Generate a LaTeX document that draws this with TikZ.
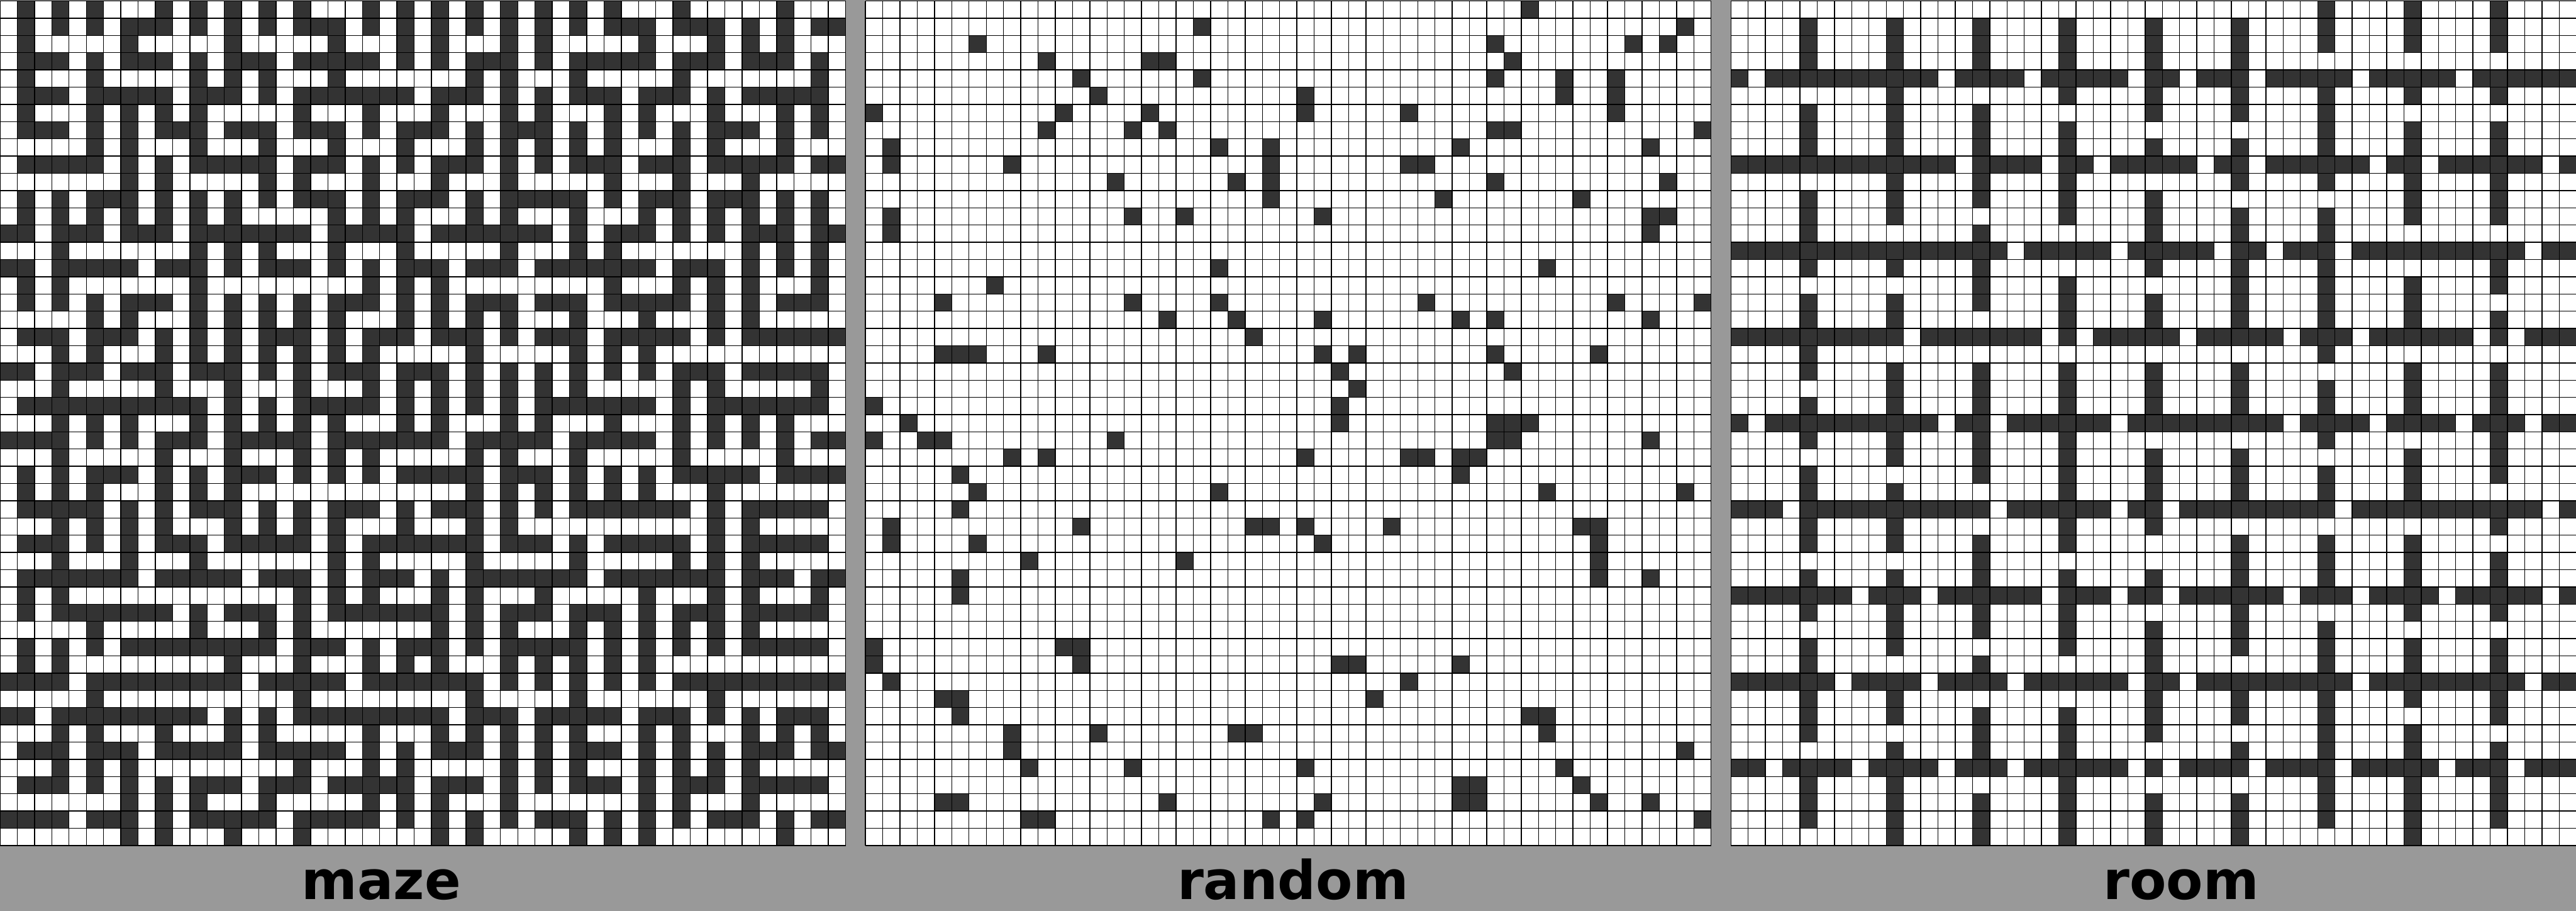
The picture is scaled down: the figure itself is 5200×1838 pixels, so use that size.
\documentclass[tikz,border=0pt]{standalone}
\usepackage{fontspec}
\setmainfont{DejaVu Sans}
\definecolor{wallc}{RGB}{51,51,51}
\definecolor{bandc}{RGB}{153,153,153}
\tikzset{
  darkcell/.style={fill=wallc},
  opencell/.style={fill=white},
  gridline/.style={draw=black, line width=0.5pt},
  band/.style={fill=bandc},
  cellunits/.style={x=0.348163cm, y=-0.347551cm},
  panellabel/.style={font=\bfseries\fontsize{30.7}{36}\selectfont, text=black, inner sep=0pt, anchor=base},
}
\newcommand\gridlines{%
  \foreach \i in {0,...,49} {\draw[gridline] (\i,0) -- (\i,49); \draw[gridline] (0,\i) -- (49,\i);}}
\begin{document}
\begin{tikzpicture}[x=0.01cm,y=-0.01cm]
\useasboundingbox (0,0) rectangle (5200,1838);
\fill[band] (0,0) rectangle (5200,1838);

% ---------------- maze ----------------
\begin{scope}[shift={(0,2)}, cellunits]
\fill[opencell] (0,0) rectangle (49,49);
\foreach \r/\cs in {
0/{1,3,5,9,11,13,15,17,21,23,25,27,29,31,33,35,39,45},
1/{1,3,5,7,8,9,11,13,15,17,18,19,21,23,25,27,29,31,33,35,36,37,39,40,41,43,45,47,48},
2/{1,7,13,19,23,25,29,31,37,41,43,45},
3/{1,2,3,5,7,8,9,11,13,14,15,17,18,19,20,21,23,25,27,28,29,31,33,34,35,36,37,39,40,41,43,44,45,47},
4/{1,5,11,13,15,19,27,29,33,39,47},
5/{1,2,3,5,6,7,8,9,11,12,13,15,17,18,19,20,21,22,23,25,26,27,29,31,33,34,35,37,38,39,41,43,44,45,46,47},
6/{1,5,7,9,11,17,21,25,29,31,35,37,41,45,47},
7/{1,2,3,5,7,9,10,11,13,14,15,17,18,19,21,23,24,25,27,29,30,31,33,35,37,39,41,42,43,45,47},
8/{5,7,11,15,19,23,27,29,31,33,35,39,41,45},
9/{1,2,3,4,5,7,9,11,12,13,14,15,17,18,19,21,23,25,26,27,29,31,33,34,35,37,38,39,41,42,43,44,45,47,48},
10/{7,9,15,17,21,25,29,35,39,43},
11/{1,3,5,6,7,9,11,13,15,17,18,19,21,23,24,25,27,29,30,31,32,33,35,37,38,39,41,42,43,45,47},
12/{1,3,5,7,9,11,13,19,21,23,27,29,33,37,39,41,43,45,47},
13/{0,1,3,4,5,7,8,9,11,12,13,14,15,16,17,19,20,21,22,23,25,26,27,28,29,30,31,33,35,36,37,39,41,43,44,45,47,48},
14/{3,11,13,15,19,23,29,33,35,43,45,47},
15/{0,1,3,4,5,6,7,9,10,11,13,15,16,17,19,21,23,24,25,27,28,29,31,32,33,34,35,36,37,39,40,41,43,45,47},
16/{1,3,11,21,23,25,35,39,41,43,47},
17/{1,3,5,7,8,9,11,13,15,17,19,20,21,23,25,27,28,29,31,32,33,35,36,37,38,39,41,43,45,46,47},
18/{5,7,11,13,15,17,19,23,25,27,29,33,37,41,43},
19/{1,2,3,5,6,7,9,11,13,15,16,17,19,21,22,23,25,26,27,29,31,32,33,35,36,37,38,39,41,43,44,45,46,47,48},
20/{3,5,9,11,13,15,17,19,21,27,33,35,37},
21/{0,1,3,4,5,7,8,9,11,12,13,15,17,19,20,21,23,24,25,27,29,31,33,35,37,39,40,41,43,44,45,46,47},
22/{3,9,13,17,21,23,25,27,29,31,33,39,41,47},
23/{1,2,3,4,5,6,7,8,9,10,11,13,15,17,18,19,20,21,23,25,27,29,31,32,33,34,35,36,37,39,41,42,43,44,45,46,47},
24/{3,5,7,11,13,15,17,19,23,25,29,31,35,39,41,43,45},
25/{0,1,2,3,5,7,9,10,11,13,14,15,16,17,19,20,21,22,23,24,25,27,28,29,30,31,33,34,35,36,37,39,41,43,45,47,48},
26/{3,9,13,17,19,21,27,29,33,39,45},
27/{1,3,5,6,7,9,11,13,14,15,17,19,21,23,24,25,26,27,29,30,31,33,35,37,39,40,41,42,43,45,46,47,48},
28/{1,3,5,9,11,13,27,29,31,33,35,37,41},
29/{1,2,3,4,5,7,9,11,12,13,15,17,19,20,21,23,25,26,27,29,31,33,34,35,36,37,38,39,41,43,44,45,46,47},
30/{3,5,7,9,13,15,17,19,23,27,29,41,43},
31/{1,2,3,5,7,9,10,11,13,14,15,16,17,19,21,22,23,24,25,26,27,29,30,31,33,35,36,37,38,39,41,43,44,45,46,47},
32/{3,7,11,19,21,27,33,39,41,43},
33/{1,2,3,4,5,6,7,9,10,11,12,13,15,16,17,19,21,22,23,25,27,28,29,30,31,32,33,35,36,37,38,39,40,41,43,44,45,47,48},
34/{1,3,17,19,21,25,27,31,37,41,43,47},
35/{1,3,4,5,6,7,8,9,11,13,14,15,17,19,20,21,22,23,24,25,27,29,30,31,33,34,35,37,39,40,41,43,44,45,46,47},
36/{5,11,15,17,25,27,29,33,35,37,39,41,43},
37/{1,3,5,7,8,9,10,11,12,13,14,15,17,18,19,21,23,24,25,27,29,30,31,32,33,35,37,39,41,43,44,45,46,47},
38/{1,3,13,17,21,23,25,29,31,33,35,37},
39/{0,1,2,3,5,6,7,8,9,10,11,12,13,15,16,17,18,19,21,22,23,24,25,26,27,29,31,33,35,37,39,40,41,42,43,44,45,46,47,48},
40/{5,17,27,33,41},
41/{0,1,3,4,5,6,7,8,9,10,11,13,15,17,18,19,20,21,22,23,24,25,27,28,29,31,32,33,34,35,37,38,39,41,43,45,46,47},
42/{3,5,9,13,15,21,25,27,29,31,33,37,39,43,45,47},
43/{1,2,3,5,6,7,9,10,11,12,13,15,16,17,18,19,21,23,25,26,27,29,31,33,34,35,37,39,41,43,44,45,47,48},
44/{3,5,7,17,21,23,29,31,33,37,39,41,43},
45/{1,2,3,5,7,9,11,12,13,15,16,17,19,20,21,22,23,25,26,27,29,31,33,34,35,37,39,40,41,43,44,45,46,47},
46/{7,9,11,15,21,23,25,29,37,39,43},
47/{0,1,2,3,5,6,7,9,11,12,13,14,15,17,18,19,20,21,23,25,27,29,31,32,33,35,37,39,41,42,43,45,47,48},
48/{7,9,13,17,25,27,33,35,37,45}}
  {\foreach \c in \cs {\fill[darkcell] (\c,\r) rectangle +(1,1);}}
\gridlines
\end{scope}

% ---------------- random ----------------
\begin{scope}[shift={(1747,2)}, cellunits]
\fill[opencell] (0,0) rectangle (49,49);
\foreach \r/\cs in {
0/{38}, 1/{19,47}, 2/{6,36,44,46}, 3/{10,16,17,37}, 4/{12,19,36,40,43},
5/{13,25,40,43}, 6/{0,11,16,25,31,43}, 7/{10,15,17,36,37,48}, 8/{1,20,23,34,45},
9/{1,8,23,31,32}, 10/{14,21,23,36,46}, 11/{23,33,41}, 12/{1,15,18,26,45,46},
13/{1,45}, 15/{20,39}, 16/{7}, 17/{4,15,20,32,43,48}, 18/{17,21,26,34,36,45},
19/{22}, 20/{4,5,6,10,26,28,36,42}, 21/{27,37}, 22/{28}, 23/{0,27},
24/{2,27,36,37,38}, 25/{0,3,4,14,36,37,45}, 26/{8,10,25,31,32,34,35},
27/{5,34}, 28/{6,20,39,47}, 29/{5}, 30/{1,12,22,23,25,30,41,42},
31/{1,6,26,42}, 32/{9,18,42}, 33/{5,42,45}, 34/{5}, 37/{0,11,12},
38/{0,12,27,28,34}, 39/{1,31}, 40/{4,5,29}, 41/{5,38,39}, 42/{8,13,21,22,39},
43/{8,47}, 44/{9,15,25,40}, 45/{34,35,41}, 46/{4,5,17,26,34,35,42,45},
47/{9,10,23,25,48}}
  {\foreach \c in \cs {\fill[darkcell] (\c,\r) rectangle +(1,1);}}
\gridlines
\end{scope}

% ---------------- room ----------------
\begin{scope}[shift={(3494,2)}, cellunits]
\fill[opencell] (0,0) rectangle (49,49);
\foreach \r/\ds in {4/{1,12,17,23,26,30,36,42}, 9/{13,18,21,27,30,37,40,47},
  14/{16,22,28,31,35,46}, 19/{10,18,20,26,32,36,43,45}, 24/{1,12,15,22,32,37,42,46},
  29/{3,15,22,25,35,47}, 34/{7,11,18,22,25,32,36,41,47}, 39/{6,11,16,23,26,36,46},
  44/{2,7,12,16,23,25,30,35,41,45}}
  {\fill[darkcell] (0,\r) rectangle (49,\r+1);
   \foreach \d in \ds {\fill[opencell] (\d,\r) rectangle +(1,1);}}
\foreach \r/\cs in {
0/{34,39,44}, 1/{4,9,14,19,24,29,34,39,44}, 2/{4,9,14,19,24,29,34,39,44},
3/{4,9,14,19,24,29}, 5/{9,19,24,29,34,39,44}, 6/{4,9,14,24,29,34},
7/{4,9,14,19,34,39,44}, 8/{4,9,14,19,24,29,34,39,44},
10/{9,14,19,29,34,39,44}, 11/{4,9,14,19,24,39,44}, 12/{4,9,19,24,29,34,39,44},
13/{4,14,24,29,34}, 15/{4,9,14,24,29,34,44}, 16/{14,19,29,34,39,44},
17/{4,9,14,19,24,29,34,39}, 18/{4,9,19,24,29,34,39,44},
20/{4,34}, 21/{4,9,14,19,24,29,39,44}, 22/{9,14,19,24,29,34,39,44},
23/{4,9,14,19,24,29,34,39,44},
25/{4,9,14,19,34,44}, 26/{9,14,19,24,29,39,44}, 27/{4,14,19,24,29,34,39,44},
28/{4,9,19,24,29,34,39},
30/{4,9,19,24,44}, 31/{4,9,14,19,29,34,39}, 32/{14,29,34,39,44},
33/{4,9,14,19,24,29,34,39,44},
35/{4,9,14,19,29,39,44}, 36/{9,14,19,24,29,34}, 37/{4,9,19,24,29,34,39,44},
38/{4,14,24,34,39,44},
40/{4,9,24,29,34,39,44}, 41/{4,9,14,19,24,29,34,44}, 42/{4,14,19,24,34,39},
43/{9,14,19,29,34,39,44},
45/{4,9,19,34,39,44}, 46/{4,9,14,19,24,29,34,39,44}, 47/{4,9,14,19,24,29,34,39,44},
48/{9,14,19,24,29,39}}
  {\foreach \c in \cs {\fill[darkcell] (\c,\r) rectangle +(1,1);}}
\gridlines
\end{scope}

\node[panellabel] (lmaze) at (770,1815) {maze};
\node[panellabel] (lrandom) at (2610,1815) {random};
\node[panellabel] (lroom) at (4403,1815) {room};
\end{tikzpicture}
\end{document}
